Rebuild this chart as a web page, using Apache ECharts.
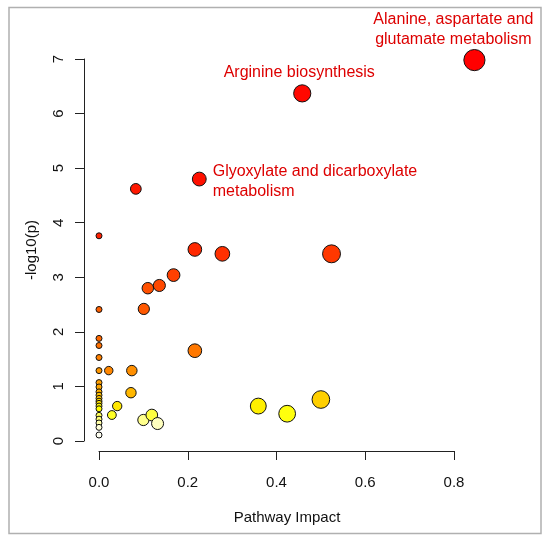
<!DOCTYPE html>
<html>
<head>
<meta charset="utf-8">
<script src="https://cdn.jsdelivr.net/npm/echarts@6/dist/echarts.min.js"></script>
<style>
  html, body { margin: 0; padding: 0; background: #fff; }
  #chart { width: 550px; height: 543px; }
</style>
</head>
<body>
<div id="chart"></div>
<script>
// pathway impact (x) and -log10(p) (y); first three points carry labels
const impact = [
  0.846, 0.458, 0.226,
  0.083, 0.216, 0.278, 0.524, 0.168, 0.136, 0.110, 0.101, 0.216,
  0.022, 0.074, 0.072, 0.041, 0.029, 0.100, 0.119, 0.132, 0.359, 0.424, 0.500,
  0, 0, 0, 0, 0, 0, 0, 0, 0, 0, 0, 0, 0, 0, 0, 0, 0, 0, 0, 0
];
const logp = [
  6.98, 6.37, 4.80,
  4.62, 3.51, 3.43, 3.43, 3.04, 2.85, 2.80, 2.42, 1.655,
  1.29, 1.29, 0.885, 0.64, 0.476, 0.385, 0.476, 0.32, 0.64, 0.50, 0.76,
  3.76, 2.41, 1.88, 1.75, 1.53, 1.29, 1.07, 0.99, 0.90, 0.84, 0.78, 0.73,
  0.69, 0.64, 0.59, 0.47, 0.40, 0.33, 0.25, 0.11
];
const pathwayNames = [
  'Alanine, aspartate and\nglutamate metabolism',
  'Arginine biosynthesis',
  'Glyoxylate and dicarboxylate\nmetabolism'
];
const xTicks = [0, 0.2, 0.4, 0.6, 0.8];
const yTicks = [0, 1, 2, 3, 4, 5, 6, 7];

const FONT = '"Liberation Sans", Arial, sans-serif';
const AXIS = '#222';

// R's heat.colors: red -> yellow, then the last quarter fades to white
function heatColor(k, n) {
  const j = Math.floor(n / 4), i = n - j;
  let h = 60, s = 1;
  if (k < i) h = 60 * k / (i - 1);
  else {
    const m = k - i, hi = 1 - 1 / (2 * j), lo = 1 / (2 * j);
    s = j > 1 ? hi - m * (hi - lo) / (j - 1) : hi;
  }
  // hsv -> rgb, v = 1, hue only between 0 and 60
  const f = h / 60;
  const r = 255, g = Math.round(255 * (1 - s * (1 - f))), b = Math.round(255 * (1 - s));
  return 'rgb(' + r + ',' + g + ',' + b + ')';
}

const order = logp.map((v, i) => i).sort((a, b) => logp[b] - logp[a]);
const rank = [];
order.forEach((idx, r) => { rank[idx] = r; });

const labelLayout = [
  { position: 'top', distance: -1, offset: [-21, 0], align: 'center' },
  { position: 'top', distance: 2, offset: [-3, 0], align: 'center' },
  { position: 'right', distance: 6, offset: [0, 3], align: 'left' }
];

const points = impact.map((x, i) => {
  const item = { value: [x, logp[i]], itemStyle: { color: heatColor(rank[i], logp.length) } };
  if (i < pathwayNames.length) {
    item.name = pathwayNames[i];
    item.label = Object.assign({
      show: true,
      formatter: '{b}',
      color: '#DD0000',
      fontSize: 16,
      lineHeight: 20,
      fontFamily: FONT
    }, labelLayout[i]);
  }
  return item;
});

const chart = echarts.init(document.getElementById('chart'));
chart.setOption({
  animation: false,
  backgroundColor: '#fff',
  graphic: [{
    type: 'rect',
    shape: { x: 9, y: 7.5, width: 532, height: 526 },
    style: { fill: 'none', stroke: '#b0b0b0', lineWidth: 1.5 },
    silent: true
  }],
  grid: { left: 99, top: 59, width: 355, height: 382 },
  xAxis: {
    type: 'value',
    min: xTicks[0],
    max: xTicks[xTicks.length - 1],
    interval: 0.2,
    offset: 10,
    splitLine: { show: false },
    axisLine: { show: true, onZero: false, lineStyle: { color: AXIS, width: 1 } },
    axisTick: { show: true, length: 9, lineStyle: { color: AXIS } },
    axisLabel: {
      margin: 24, fontSize: 15, color: '#111', fontFamily: FONT,
      formatter: v => v.toFixed(1)
    },
    name: 'Pathway Impact',
    nameLocation: 'middle',
    nameGap: 59,
    nameTextStyle: { fontSize: 15, color: '#111', fontFamily: FONT, padding: [0, 0, 0, 21] }
  },
  yAxis: {
    type: 'value',
    min: yTicks[0],
    max: yTicks[yTicks.length - 1],
    interval: 1,
    offset: 15,
    splitLine: { show: false },
    axisLine: { show: true, onZero: false, lineStyle: { color: AXIS, width: 1 } },
    axisTick: { show: true, length: 9, lineStyle: { color: AXIS } },
    axisLabel: { margin: 18, rotate: 90, fontSize: 15, color: '#111', fontFamily: FONT },
    name: '-log10(p)',
    nameLocation: 'middle',
    nameGap: 45,
    nameTextStyle: { fontSize: 15, color: '#111', fontFamily: FONT }
  },
  series: [{
    type: 'scatter',
    clip: false,
    silent: true,
    data: points,
    symbolSize: v => 6 + 16.5 * Math.sqrt(v[0]),
    itemStyle: { borderColor: '#111', borderWidth: 1, opacity: 1 }
  }]
});
</script>
</body>
</html>
